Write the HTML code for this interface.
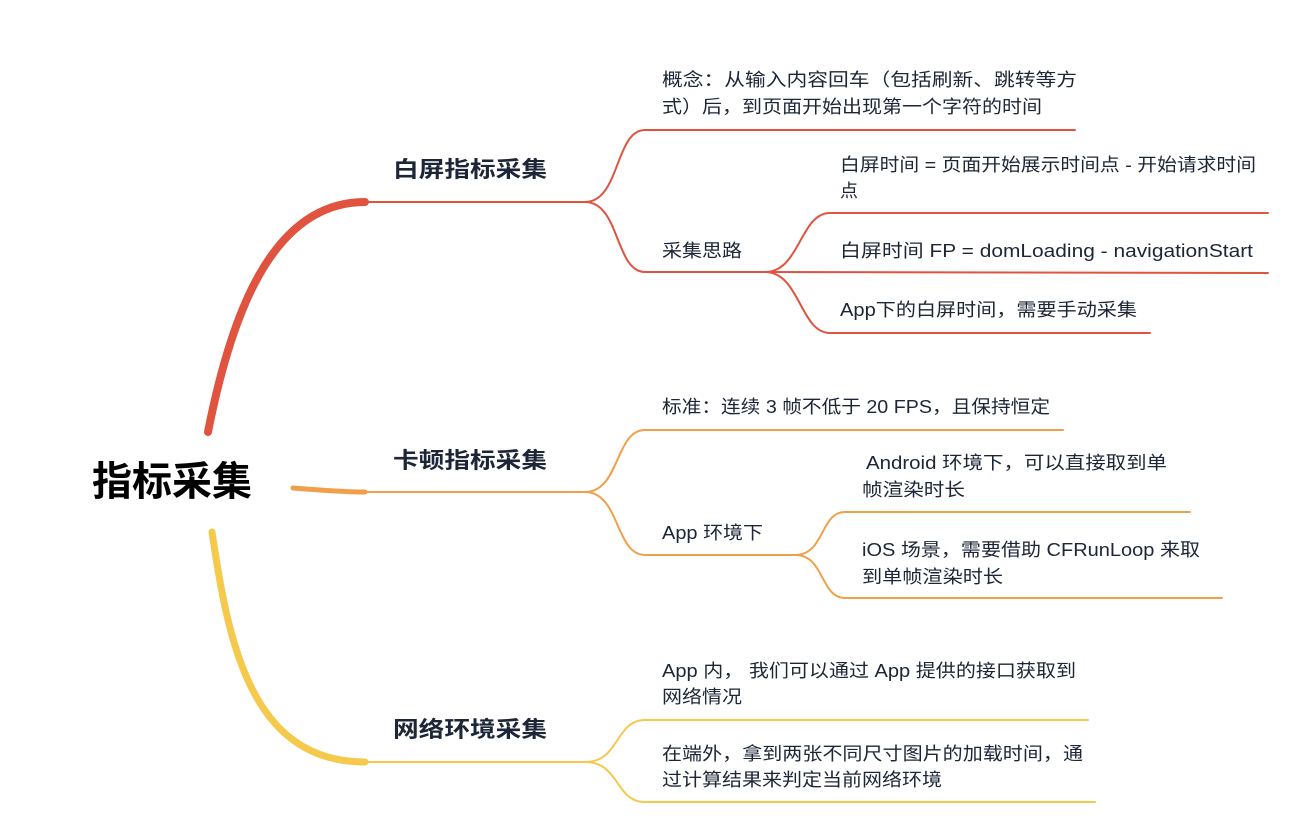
<!DOCTYPE html>
<html><head><meta charset="utf-8"><style>
html,body{margin:0;padding:0;background:#fff;}
svg text{font-family:"Liberation Sans","Noto Sans CJK SC",sans-serif;fill:#1c2636;}
.b{font-weight:bold;font-size:22px;}
.t{font-size:18px;}
</style></head><body>
<svg width="1298" height="816" viewBox="0 0 1298 816" xmlns="http://www.w3.org/2000/svg">
<g fill="none" stroke-linecap="round">
<path d="M208 432 C230 320 270 202 365 202" stroke="#e0533f" stroke-width="8"/>
<path d="M360 202 L585 202" stroke="#e0533f" stroke-width="2"/>
<path d="M585 202 C620 202 615 130 645 130 L1075 130" stroke="#e0533f" stroke-width="2"/>
<path d="M585 202 C620 202 615 272 645 272 L765 272" stroke="#e0533f" stroke-width="2"/>
<path d="M765 272 C800 272 800 213 830 213 L1268 213" stroke="#e0533f" stroke-width="2"/>
<path d="M765 272 L1268 273" stroke="#e0533f" stroke-width="2"/>
<path d="M765 272 C800 272 800 333 830 333 L1150 333" stroke="#e0533f" stroke-width="2"/>
<path d="M293 488 C320 490 340 492 365 492" stroke="#f0a04b" stroke-width="5"/>
<path d="M360 492 L585 492" stroke="#f0a04b" stroke-width="2"/>
<path d="M585 492 C620 492 615 430 645 430 L1063 430" stroke="#f0a04b" stroke-width="2"/>
<path d="M585 492 C620 492 615 555 645 555 L795 555" stroke="#f0a04b" stroke-width="2"/>
<path d="M795 555 C825 555 820 512 845 512 L1190 512" stroke="#f0a04b" stroke-width="2"/>
<path d="M795 555 C825 555 820 598 845 598 L1222 598" stroke="#f0a04b" stroke-width="2"/>
<path d="M212 532 C228 640 250 762 365 762" stroke="#f5c94c" stroke-width="7"/>
<path d="M360 762 L585 762" stroke="#f5c94c" stroke-width="2"/>
<path d="M585 762 C620 762 615 720 645 720 L1088 720" stroke="#f5c94c" stroke-width="2"/>
<path d="M585 762 C620 762 615 802 645 802 L1095 802" stroke="#f5c94c" stroke-width="2"/>
</g>
<text x="92" y="495" style="font-size:40px;font-weight:bold;fill:#000">指标采集</text>
<text class="b" x="393" y="177" textLength="154" lengthAdjust="spacingAndGlyphs">白屏指标采集</text>
<text class="b" x="393" y="468" textLength="154" lengthAdjust="spacingAndGlyphs">卡顿指标采集</text>
<text class="b" x="393" y="737" textLength="154" lengthAdjust="spacingAndGlyphs">网络环境采集</text>
<text class="t" x="662" y="86" textLength="415" lengthAdjust="spacingAndGlyphs">概念：从输入内容回车（包括刷新、跳转等方</text>
<text class="t" x="662" y="113" textLength="380" lengthAdjust="spacingAndGlyphs">式）后，到页面开始出现第一个字符的时间</text>
<text class="t" x="662" y="257" textLength="80" lengthAdjust="spacingAndGlyphs">采集思路</text>
<text class="t" x="840" y="171" textLength="416" lengthAdjust="spacingAndGlyphs">白屏时间 = 页面开始展示时间点 - 开始请求时间</text>
<text class="t" x="840" y="197">点</text>
<text class="t" x="840" y="257" textLength="413" lengthAdjust="spacingAndGlyphs">白屏时间 FP = domLoading - navigationStart</text>
<text class="t" x="840" y="316" textLength="297" lengthAdjust="spacingAndGlyphs">App下的白屏时间，需要手动采集</text>
<text class="t" x="662" y="413" textLength="388" lengthAdjust="spacingAndGlyphs">标准：连续 3 帧不低于 20 FPS，且保持恒定</text>
<text class="t" x="662" y="539" textLength="101" lengthAdjust="spacingAndGlyphs">App 环境下</text>
<text class="t" x="866" y="469" textLength="301" lengthAdjust="spacingAndGlyphs">Android 环境下，可以直接取到单</text>
<text class="t" x="862" y="496" textLength="103" lengthAdjust="spacingAndGlyphs">帧渲染时长</text>
<text class="t" x="862" y="556" textLength="338" lengthAdjust="spacingAndGlyphs">iOS 场景，需要借助 CFRunLoop 来取</text>
<text class="t" x="862" y="583" textLength="141" lengthAdjust="spacingAndGlyphs">到单帧渲染时长</text>
<text class="t" x="662" y="677" textLength="414" lengthAdjust="spacingAndGlyphs">App 内， 我们可以通过 App 提供的接口获取到</text>
<text class="t" x="662" y="703" textLength="80" lengthAdjust="spacingAndGlyphs">网络情况</text>
<text class="t" x="662" y="760" textLength="421" lengthAdjust="spacingAndGlyphs">在端外，拿到两张不同尺寸图片的加载时间，通</text>
<text class="t" x="662" y="786" textLength="280" lengthAdjust="spacingAndGlyphs">过计算结果来判定当前网络环境</text>
</svg>
</body></html>
